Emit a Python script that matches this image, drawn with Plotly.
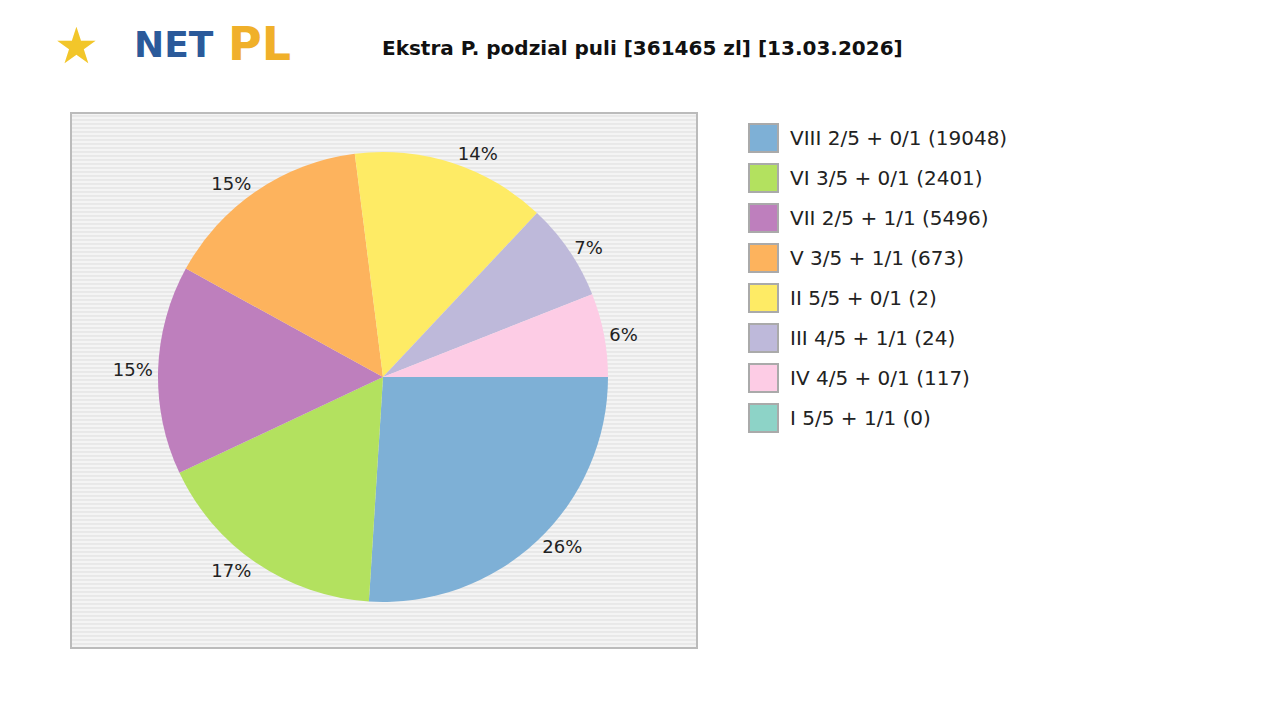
import plotly.graph_objects as go

labels = ["VIII 2/5 + 0/1 (19048)", "VI 3/5 + 0/1 (2401)", "VII 2/5 + 1/1 (5496)",
          "V 3/5 + 1/1 (673)", "II 5/5 + 0/1 (2)", "III 4/5 + 1/1 (24)",
          "IV 4/5 + 0/1 (117)", "I 5/5 + 1/1 (0)"]
shares = [26, 17, 15, 15, 14, 7, 6, 0]
colors = ["#7eb0d6", "#b3e15f", "#be7fbd", "#fdb35d", "#feeb65", "#beb9da", "#fdcce5", "#8dd3c7"]

W, H = 1280, 720
OFF = 8
def px(x): return (x - OFF) / W
def py(y): return 1 - (y - OFF) / H

fig = go.Figure()
fig.add_trace(go.Pie(
    values=shares, labels=labels, sort=False, direction="clockwise", rotation=90,
    marker=dict(colors=colors, line=dict(width=0)),
    text=[f"{v}%" if v > 0 else "" for v in shares], textinfo="text",
    textposition="outside", textfont=dict(size=18, color="#222", family="DejaVu Sans"),
    domain=dict(x=[px(158), px(608)], y=[py(602), py(152)]), showlegend=False, hoverinfo="label+percent",
))

shapes = [dict(type="rect", xref="paper", yref="paper", x0=px(71), x1=px(697), y0=py(648), y1=py(113),
               fillcolor="#f4f4f4", line=dict(color="#bbbbbb", width=2), layer="below")]
y = 116
while y < 646:
    shapes.append(dict(type="line", xref="paper", yref="paper", x0=px(72), x1=px(696),
                       y0=py(y), y1=py(y), line=dict(color="#dddddd", width=1), layer="below"))
    y += 4

annotations = [
    dict(text="<b>Ekstra P. podzial puli [361465 zl] [13.03.2026]</b>", x=px(642), y=py(48),
         xref="paper", yref="paper", showarrow=False, yanchor="middle",
         font=dict(size=20, color="#111", family="DejaVu Sans")),
    dict(text="<b>NET</b>", x=px(132), y=py(44), xref="paper", yref="paper", showarrow=False,
         yanchor="middle", font=dict(size=36, color="#2b5a9a", family="DejaVu Sans")),
    dict(text="<b>PL</b>", x=px(226), y=py(44), xref="paper", yref="paper", showarrow=False,
         yanchor="middle", font=dict(size=46, color="#f0b02a", family="DejaVu Sans")),
    dict(text="★", x=px(52), y=py(44), xref="paper", yref="paper", showarrow=False,
         yanchor="middle", font=dict(size=50, color="#f2c62a")),
]
for i, (lab, c) in enumerate(zip(labels, colors)):
    yc = 138 + 40 * i
    shapes.append(dict(type="rect", xref="paper", yref="paper", x0=px(749), x1=px(778),
                       y0=py(yc + 14), y1=py(yc - 14), fillcolor=c, line=dict(color="#aaaaaa", width=2)))
    annotations.append(dict(text=lab, x=px(788), y=py(yc), xref="paper", yref="paper", xanchor="left",
                            yanchor="middle", showarrow=False,
                            font=dict(size=20, color="#222", family="DejaVu Sans")))

fig.update_layout(width=W, height=H, margin=dict(l=0, r=0, t=0, b=0), paper_bgcolor="white",
                  shapes=shapes, annotations=annotations)
fig.write_html("out.html")
